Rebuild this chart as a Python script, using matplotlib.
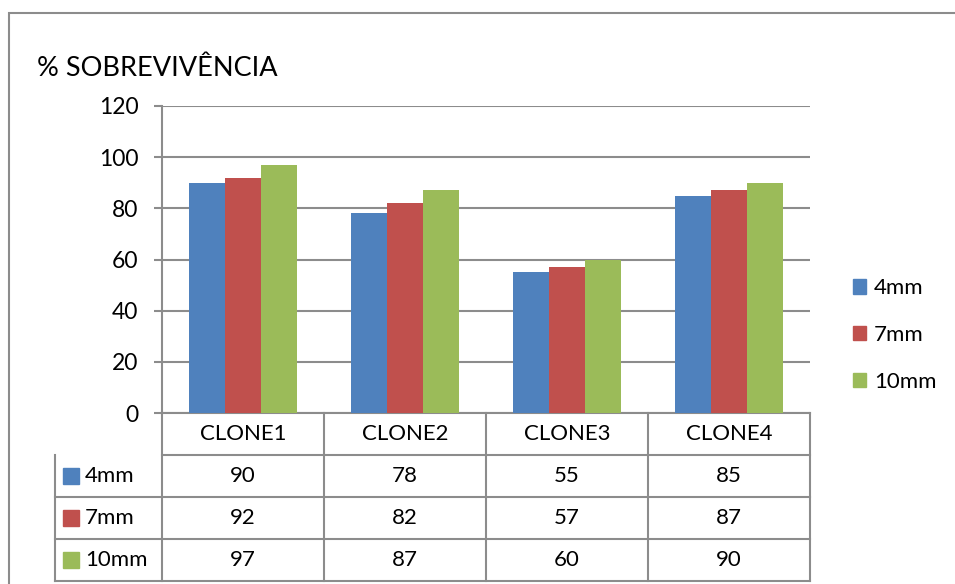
import numpy as np
import matplotlib.pyplot as plt
from matplotlib.patches import Patch, Rectangle

categories = ["CLONE1", "CLONE2", "CLONE3", "CLONE4"]
series = ["4mm", "7mm", "10mm"]
v_4mm = [90, 78, 55, 85]
v_7mm = [92, 82, 57, 87]
v_10mm = [97, 87, 60, 90]
values = [v_4mm, v_7mm, v_10mm]
colors = ["#4F81BD", "#C0504D", "#9BBB59"]
title = "% SOBREVIVÊNCIA"

plt.rcParams["font.family"] = ["Lato", "DejaVu Sans"]
grid_c = "#8c8c8c"

W, H = 955, 584
fig = plt.figure(figsize=(W / 100, H / 100), dpi=100)
ax = fig.add_axes([162 / W, (H - 413) / H, 648 / W, 307 / H])

# outer chart border
fig.patches.append(Rectangle((9 / W, -0.1), 1.2, (H - 13) / H + 0.1, transform=fig.transFigure,
                             fill=False, edgecolor=grid_c, linewidth=1.5))

x = np.arange(len(categories))
bw = 0.222
for i, (vals, c) in enumerate(zip(values, colors)):
    ax.bar(x + (i - 1) * bw, vals, bw, color=c, label=series[i], zorder=3)

ax.set_xlim(-0.5, len(categories) - 0.5)
ax.set_ylim(0, 120)
ax.set_yticks(range(0, 121, 20))
ax.yaxis.grid(True, color=grid_c, linewidth=1.5, zorder=0)
ax.set_xticks([])
for s in ["top", "right", "bottom"]:
    ax.spines[s].set_visible(False)
ax.spines["left"].set_color(grid_c)
ax.spines["left"].set_linewidth(1.5)
ax.tick_params(axis="y", length=6, width=1.5, color=grid_c, labelsize=16.5, pad=11)

fig.text(37 / W, (H - 76) / H, title, fontsize=19.5, ha="left", va="baseline")

# data table below the axis
fs = 16
rh = 42 / 307
lx = (55 - 162) / 648
kw = dict(transform=ax.transAxes, color=grid_c, linewidth=1.5, clip_on=False)
ax.plot([0, 1], [0, 0], **kw)
for k in range(1, 5):
    ax.plot([lx if k > 1 else 0, 1], [-k * rh, -k * rh], **kw)
ax.plot([lx, lx], [-rh, -4 * rh], **kw)
for j in range(len(categories) + 1):
    xf = j / len(categories)
    ax.plot([xf, xf], [0, -4 * rh], **kw)
for j, cat in enumerate(categories):
    ax.text((j + 0.5) / len(categories), -0.5 * rh, cat, transform=ax.transAxes,
            ha="center", va="center", fontsize=fs)
    for i, vals in enumerate(values):
        ax.text((j + 0.5) / len(categories), -(i + 1.5) * rh, str(vals[j]),
                transform=ax.transAxes, ha="center", va="center", fontsize=fs)
for i, (s, c) in enumerate(zip(series, colors)):
    yc = -(i + 1.5) * rh
    ax.add_patch(Rectangle(((63 - 162) / 648, yc - 8 / 307), 16 / 648, 16 / 307,
                           transform=ax.transAxes, color=c, clip_on=False))
    ax.text((85 - 162) / 648, yc, s, transform=ax.transAxes, ha="left", va="center", fontsize=fs)

handles = [Patch(color=c, label=s) for s, c in zip(series, colors)]
fig.legend(handles=handles, loc="center left", bbox_to_anchor=(833 / W, (H - 335) / H),
           frameon=False, fontsize=fs, handlelength=0.6, handleheight=0.6,
           handletextpad=0.35, labelspacing=1.2)

fig.savefig("out.png", dpi=100)
